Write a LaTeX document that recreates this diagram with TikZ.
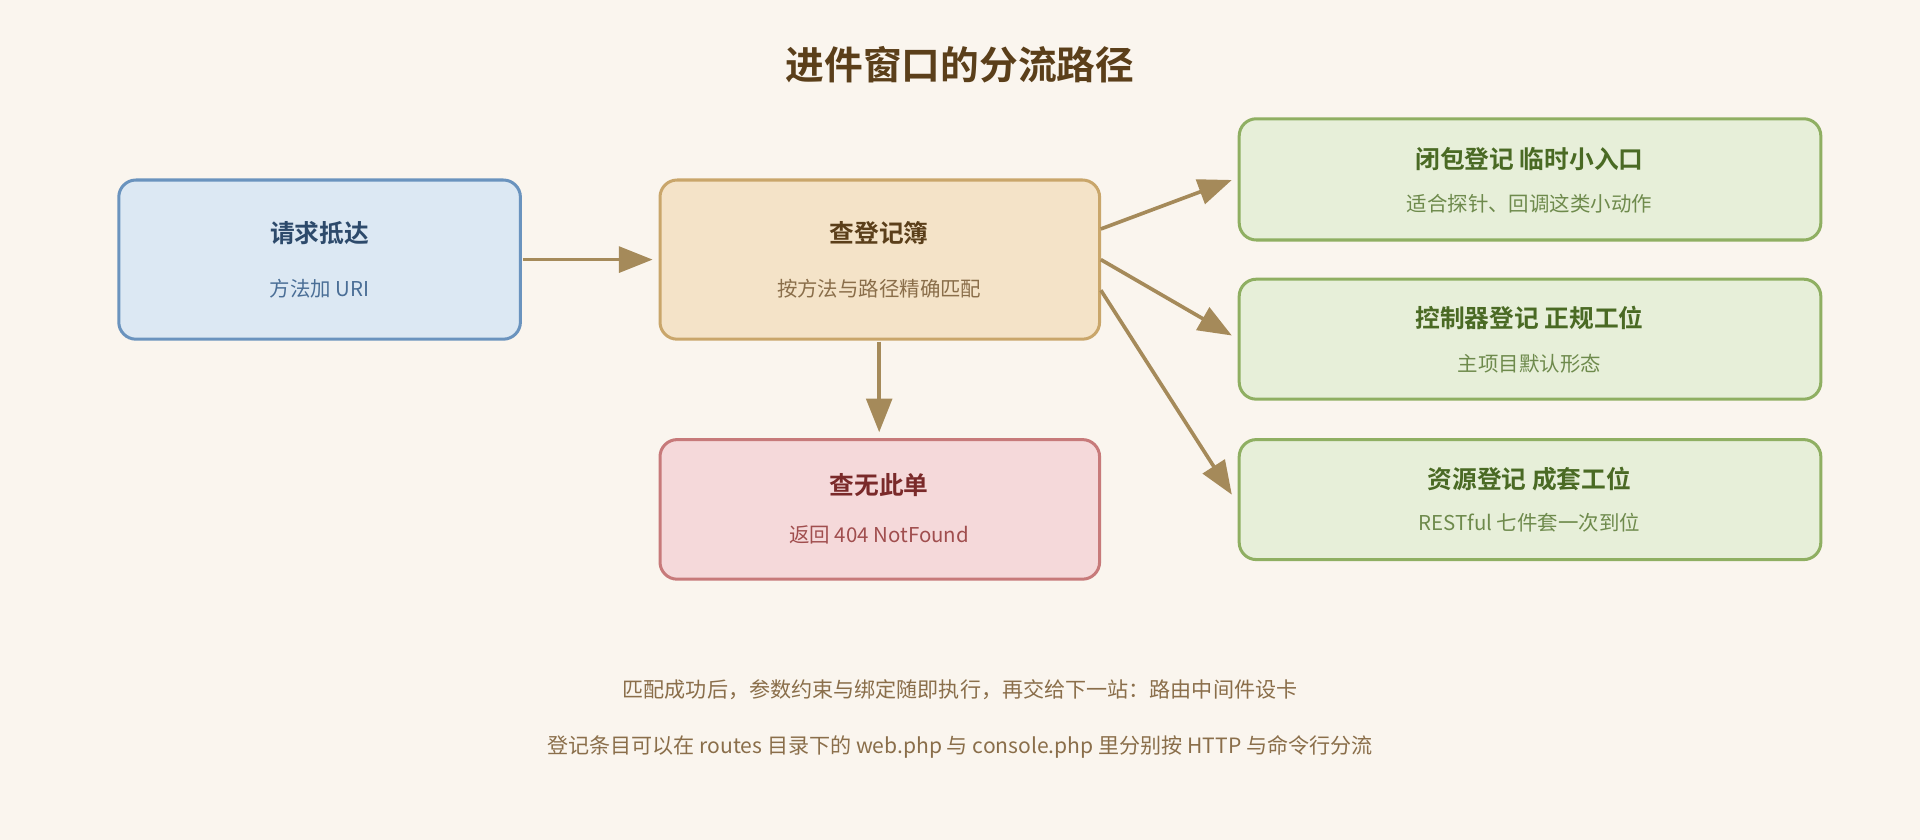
\documentclass[tikz,border=0pt]{standalone}
\usepackage{fontspec}
\setmainfont{Noto Sans CJK SC}[BoldFont={Noto Sans CJK SC Bold}]
\usetikzlibrary{arrows.meta}
\definecolor{bg}{HTML}{FAF5EE}
\definecolor{arr}{HTML}{A58A5A}
\definecolor{bF}{HTML}{DCE8F3}\definecolor{bD}{HTML}{6A93BE}\definecolor{bT}{HTML}{2D4A6B}\definecolor{bS}{HTML}{4A6E96}
\definecolor{oF}{HTML}{F4E3C8}\definecolor{oD}{HTML}{C9A66B}\definecolor{oT}{HTML}{5B3F1A}\definecolor{oS}{HTML}{8A6E4A}
\definecolor{rF}{HTML}{F5D9DA}\definecolor{rD}{HTML}{C77A7A}\definecolor{rT}{HTML}{7A2A2A}\definecolor{rS}{HTML}{A04E4E}
\definecolor{gF}{HTML}{E7EFD9}\definecolor{gD}{HTML}{8FAF62}\definecolor{gT}{HTML}{4A6A24}\definecolor{gS}{HTML}{6E8A4C}
\definecolor{ttl}{HTML}{5B3F1A}\definecolor{foot}{HTML}{8A6E4A}
\tikzset{
 box/.style={draw, line width=1.4pt, rounded corners=0.28cm},
 ar/.style={draw=arr, line width=1.7pt, -{Triangle[length=0.55cm,width=0.42cm]}},
 tt/.style={font=\bfseries\fontsize{11.5}{13}\selectfont},
 st/.style={font=\fontsize{9.5}{11}\selectfont},
}
\begin{document}
\begin{tikzpicture}[x=0.02cm,y=-0.02cm]
\fill[bg] (0,0) rectangle (1568,686);
\useasboundingbox (0,0) rectangle (1568,686);
\node[text=ttl,font=\bfseries\fontsize{18}{20}\selectfont] (title) at (784,53) {进件窗口的分流路径};
% boxes
\draw[box,fill=bF,draw=bD] (97,147) rectangle (425,277);
\node (req) at (261,212) {};
\node[tt,text=bT] (reqt) at (261,190) {请求抵达};
\node[st,text=bS] (reqs) at (261,236) {方法加 URI};
\draw[box,fill=oF,draw=oD] (539,147) rectangle (898,277);
\node[tt,text=oT] (chkt) at (718,190) {查登记簿};
\node[st,text=oS] (chks) at (718,236) {按方法与路径精确匹配};
\draw[box,fill=rF,draw=rD] (539,359) rectangle (898,473);
\node[tt,text=rT] (nft) at (718,396) {查无此单};
\node[st,text=rS] (nfs) at (718,437) {返回 404 NotFound};
\draw[box,fill=gF,draw=gD] (1012,97) rectangle (1487,196);
\node[tt,text=gT] (g1t) at (1249,130) {闭包登记 临时小入口};
\node[st,text=gS] (g1s) at (1249,166) {适合探针、回调这类小动作};
\draw[box,fill=gF,draw=gD] (1012,228) rectangle (1487,326);
\node[tt,text=gT] (g2t) at (1249,260) {控制器登记 正规工位};
\node[st,text=gS] (g2s) at (1249,297) {主项目默认形态};
\draw[box,fill=gF,draw=gD] (1012,359) rectangle (1487,457);
\node[tt,text=gT] (g3t) at (1249,391) {资源登记 成套工位};
\node[st,text=gS] (g3s) at (1249,427) {RESTful 七件套一次到位};
% arrow endpoints
\coordinate (a1) at (427,212); \coordinate (b1) at (533,212);
\coordinate (a2) at (718,279); \coordinate (b2) at (718,353);
\coordinate (a3) at (899,187); \coordinate (b3) at (1006,147);
\coordinate (a4) at (899,212); \coordinate (b4) at (1006,274);
\coordinate (a5) at (899,237); \coordinate (b5) at (1006,404);
\draw[ar] (a1) -- (b1);
\draw[ar] (a2) -- (b2);
\draw[ar] (a3) -- (b3);
\draw[ar] (a4) -- (b4);
\draw[ar] (a5) -- (b5);
\node[st,text=foot,font=\fontsize{9.8}{11}\selectfont] (f1) at (784,563) {匹配成功后，参数约束与绑定随即执行，再交给下一站：路由中间件设卡};
\node[st,text=foot,font=\fontsize{9.8}{11}\selectfont] (f2) at (784,610) {登记条目可以在 routes 目录下的 web.php 与 console.php 里分别按 HTTP 与命令行分流};
\end{tikzpicture}
\end{document}
